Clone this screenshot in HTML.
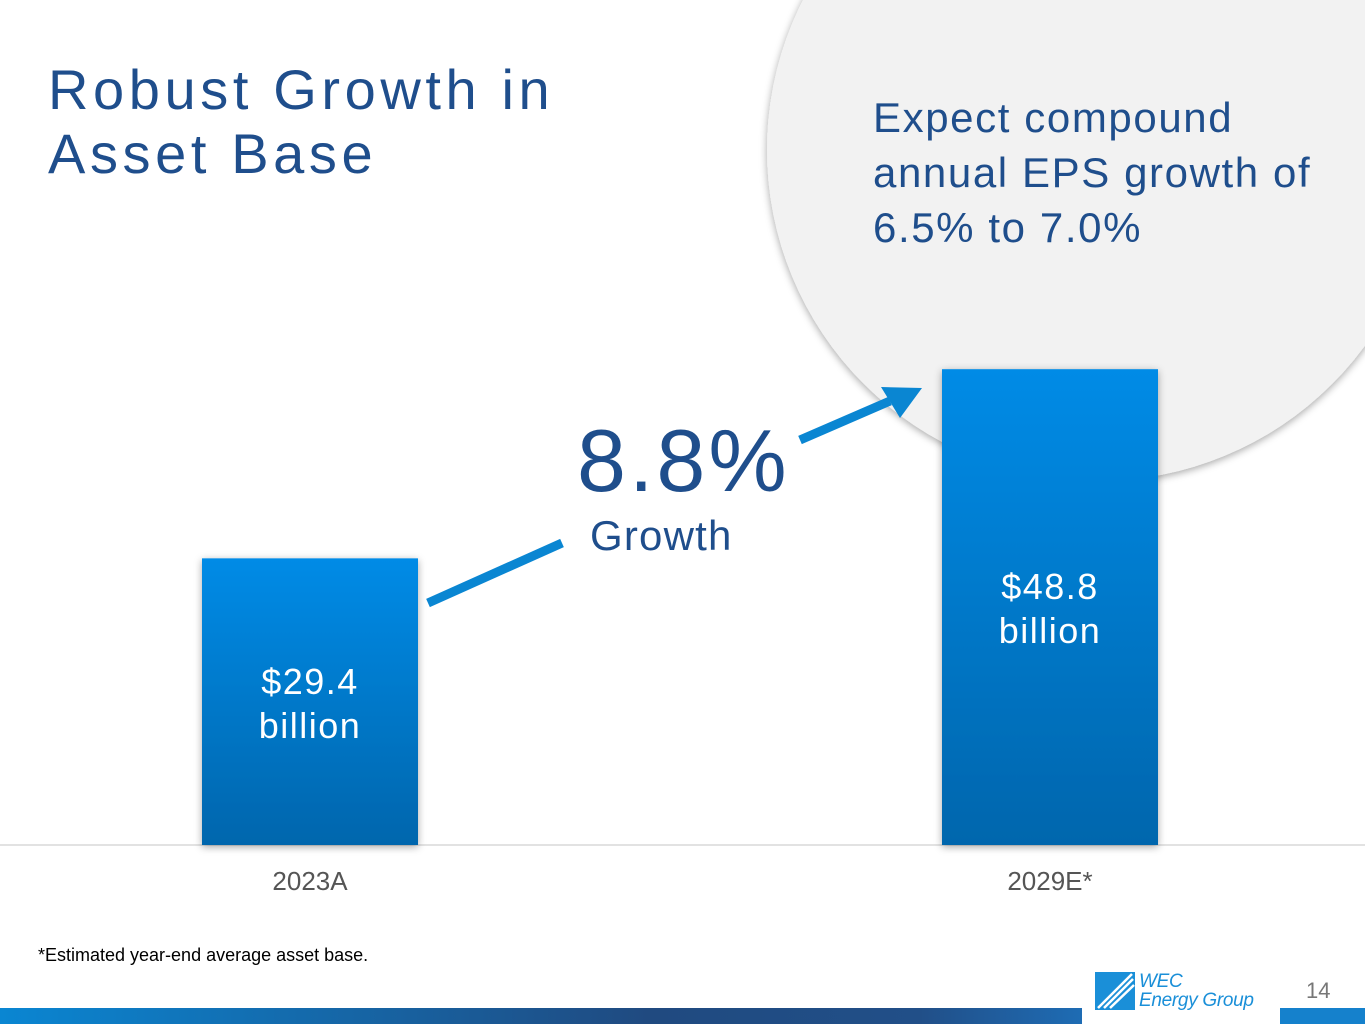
<!DOCTYPE html>
<html><head><meta charset="utf-8"><style>
body{margin:0;width:1365px;height:1024px;overflow:hidden;background:#fff;font-family:"Liberation Sans",sans-serif;position:relative}
.abs{position:absolute}
</style></head><body>
<svg class="abs" style="left:0;top:0" width="1365" height="1024">
<defs>
<linearGradient id="bg" x1="0" y1="0" x2="0" y2="1"><stop offset="0" stop-color="#008be6"/><stop offset="1" stop-color="#0066ad"/></linearGradient>
<linearGradient id="fb" x1="0" y1="0" x2="1" y2="0"><stop offset="0" stop-color="#0a86d2"/><stop offset="0.6" stop-color="#204a80"/><stop offset="0.85" stop-color="#214f88"/><stop offset="1" stop-color="#1e6cb4"/></linearGradient>
<filter id="sh" x="-20%" y="-20%" width="140%" height="140%"><feDropShadow dx="0" dy="2" stdDeviation="4" flood-color="#000" flood-opacity="0.35"/></filter>
</defs>
<circle cx="1098" cy="150" r="331" fill="#f2f2f2" filter="url(#sh)"/>
<line x1="0" y1="845" x2="1365" y2="845" stroke="#d9d9d9" stroke-width="1.5"/>
<g id="bars"></g>
<line x1="428" y1="603" x2="562" y2="543" stroke="#0a86d2" stroke-width="9"/>
<line x1="800" y1="440" x2="890" y2="401" stroke="#0a86d2" stroke-width="9"/>
<polygon points="922,388 881,387 900,418" fill="#0a86d2"/>
<rect x="0" y="1008" width="1082" height="16" fill="url(#fb)"/>
<rect x="1280" y="1008" width="85" height="16" fill="#1581cc"/>
<g fill="#1a8fd8">
<rect x="1095" y="972" width="40" height="38"/>
<path d="M1098 1008 L1132 974 M1104 1008 L1133 979 M1110 1008 L1134 985" stroke="#fff" stroke-width="2.5"/>
</g>
</svg>
<div class="abs" style="left:48px;top:58px;font-size:56px;line-height:64px;color:#1f4e8c;letter-spacing:4.6px">Robust Growth in<br>Asset Base</div>
<div class="abs" style="left:873px;top:90px;font-size:42px;line-height:55px;color:#1f4e8c;letter-spacing:1.6px;white-space:nowrap">Expect compound<br>annual EPS growth of<br>6.5% to 7.0%</div>
<div class="abs" style="left:577px;top:410px;font-size:88px;color:#1f4e8c;letter-spacing:3px">8.8%</div>
<div class="abs" style="left:590px;top:512px;font-size:42px;color:#1f4e8c;letter-spacing:1.2px">Growth</div>
<div id="labels"></div>
<div class="abs" style="left:38px;top:945px;font-size:18px;color:#000">*Estimated year-end average asset base.</div>
<div class="abs" style="left:1139px;top:972px;font-size:19px;line-height:19px;color:#1a8fd8;font-style:italic;letter-spacing:-0.3px">WEC<br>Energy Group</div>
<div class="abs" style="left:1306px;top:978px;font-size:22px;color:#777">14</div>
<script>
const categories=["2023A","2029E*"];
const values=[29.4,48.8];
const valueLabels=["$29.4","$48.8"];
const xCenters=[310,1050];
const baseY=845, scale=9.75, bw=216;
function y(v){return baseY-v*scale;}
const g=document.getElementById('bars'),L=document.getElementById('labels');
const ns="http://www.w3.org/2000/svg";
values.forEach((v,i)=>{
 const r=document.createElementNS(ns,'rect');
 r.setAttribute('x',xCenters[i]-bw/2);r.setAttribute('y',y(v));r.setAttribute('width',bw);r.setAttribute('height',baseY-y(v));
 r.setAttribute('fill','url(#bg)');r.setAttribute('filter','url(#sh)');
 
 
 g.appendChild(r);
 const t=document.createElement('div');t.className='abs';
 const mid=(y(v)+baseY)/2;
 t.style.cssText=`left:${xCenters[i]-110}px;width:220px;text-align:center;top:${mid-42}px;font-size:36px;line-height:44px;color:#fff;letter-spacing:1.5px`;
 t.innerHTML=valueLabels[i]+'<br>billion';
 
 
 L.appendChild(t);
 const c=document.createElement('div');c.className='abs';
 c.style.cssText=`left:${xCenters[i]-110}px;width:220px;text-align:center;top:866px;font-size:26px;color:#555`;
 c.textContent=categories[i];
 
 
 L.appendChild(c);
});
</script>
</body></html>
